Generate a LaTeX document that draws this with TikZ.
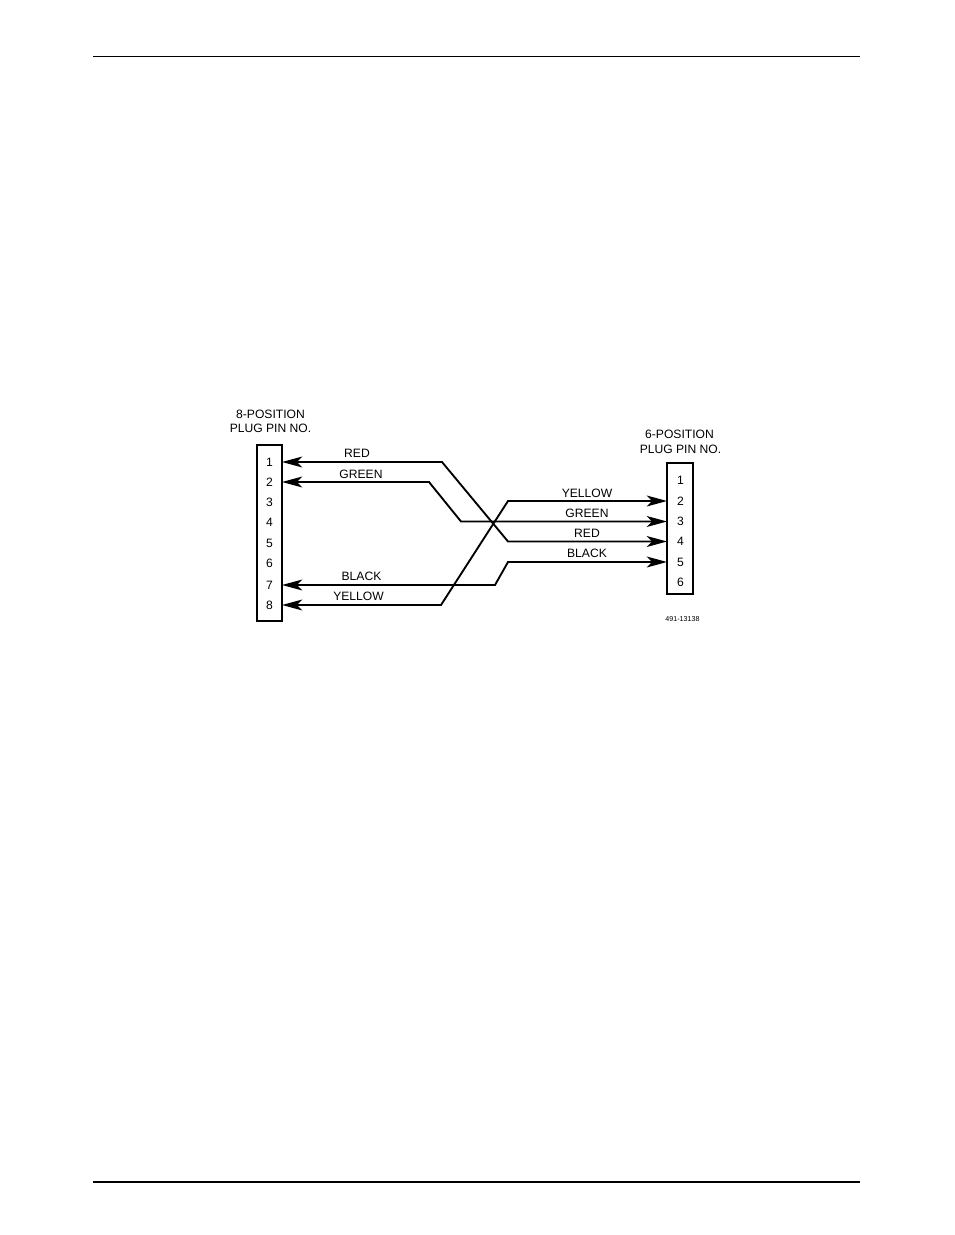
\documentclass[tikz,border=0pt]{standalone}
\usepackage{fontspec}
\setmainfont{Liberation Sans}
\usetikzlibrary{arrows.meta}
\begin{document}
\begin{tikzpicture}[x=0.641509bp,y=-0.641509bp,
  lbl/.style={font=\fontsize{7.8}{9}\selectfont, inner sep=0pt, anchor=base},
  pin/.style={font=\fontsize{7.8}{9}\selectfont, inner sep=0pt, anchor=center},
  plugbox/.style={draw, line width=1.1bp},
  wire/.style={line width=1.2bp, {Stealth[length=13bp,width=7bp,inset=3.5bp]}-{Stealth[length=13bp,width=7bp,inset=3.5bp]}},
  rule/.style={line width=0.75bp}]
\useasboundingbox (0,0) rectangle (954,1235);
% page rules
\coordinate (tl) at (93,56.5); \coordinate (tr) at (860,56.5);
\coordinate (bl) at (93,1182); \coordinate (br) at (860,1182);
\draw[rule] (tl) -- (tr);
\draw[rule] (bl) -- (br);
% boxes
\draw[plugbox] (257,445) rectangle (282,621);
\draw[plugbox] (667,463) rectangle (693,594);
% headers
\node[lbl] (h8a) at (270.5,418) {8-POSITION};
\node[lbl] (h8b) at (270.5,432) {PLUG PIN NO.};
\node[lbl] (h6a) at (679.5,438) {6-POSITION};
\node[lbl] (h6b) at (680.5,453) {PLUG PIN NO.};
% left pins
\foreach \n/\y in {1/462,2/482,3/502,4/522.5,5/543,6/563.5,7/585,8/605}{
  \node[pin] (L\n) at (269.5,\y) {\n};
  \coordinate (LE\n) at (282,\y);
}
% right pins
\foreach \n/\y in {1/480,2/501,3/521.5,4/541.5,5/562,6/582.5}{
  \node[pin] (R\n) at (680.5,\y) {\n};
  \coordinate (RE\n) at (667,\y);
}
% wires
\draw[wire] (LE1) -- (442,462) -- (508,541.5) -- (RE4);
\draw[wire] (LE2) -- (429,482) -- (461,521.5) -- (RE3);
\draw[wire] (LE7) -- (495,585) -- (508,562) -- (RE5);
\draw[wire] (LE8) -- (441,605) -- (508,501) -- (RE2);
% wire labels
\node[lbl] (lr) at (357,457) {RED};
\node[lbl] (lg) at (361,478) {GREEN};
\node[lbl] (lb) at (361.5,580) {BLACK};
\node[lbl] (ly) at (358.5,600) {YELLOW};
\node[lbl] (ry) at (587,497) {YELLOW};
\node[lbl] (rg) at (587,517.3) {GREEN};
\node[lbl] (rr) at (587,537.3) {RED};
\node[lbl] (rb) at (587,557) {BLACK};
\node[font=\fontsize{4.6}{5}\selectfont, inner sep=0pt] (fig) at (682.5,619) {491-13138};
\end{tikzpicture}
\end{document}
